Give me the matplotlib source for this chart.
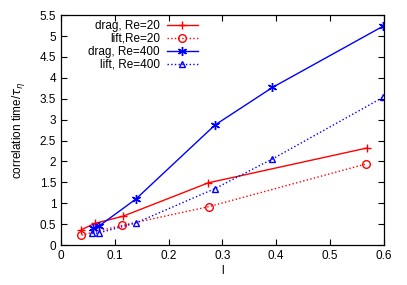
import numpy as np
import matplotlib.pyplot as plt

##### DATA #####

drag20_x = [0.038, 0.063, 0.115, 0.274, 0.568]
drag20_y = [0.37, 0.52, 0.69, 1.49, 2.32]

lift20_x = [0.038, 0.113, 0.275, 0.567]
lift20_y = [0.24, 0.47, 0.92, 1.94]

drag400_x = [0.060, 0.070, 0.139, 0.286, 0.393, 0.598]
drag400_y = [0.40, 0.45, 1.10, 2.87, 3.77, 5.23]

lift400_x = [0.058, 0.070, 0.139, 0.286, 0.393, 0.598]
lift400_y = [0.28, 0.29, 0.53, 1.35, 2.06, 3.53]

xticks = np.arange(0, 0.61, 0.1)
yticks = np.arange(0, 5.51, 0.5)

##### FIGURE #####

plt.rcParams['font.family'] = 'Liberation Sans'
plt.rcParams['font.size'] = 8.5

fig = plt.figure(figsize=(4.07, 2.85), dpi=100)
ax = fig.add_axes([0.150, 0.140, 0.793, 0.807])

ax.plot(drag20_x, drag20_y, '-', color='red', marker='+', ms=6, mew=1, lw=1,
        label='drag, Re=20')
ax.plot(lift20_x, lift20_y, ':', color='red', marker='o', ms=5.5, mfc='none',
        mew=1, lw=1, label='lift,Re=20')
ax.plot(drag400_x, drag400_y, '-', color='blue', marker=(6, 2, 0), ms=6.5, mew=1,
        lw=1, label='drag, Re=400')
ax.plot(lift400_x, lift400_y, ':', color='blue', marker='^', ms=5, mfc='none',
        mew=1, lw=1, label='lift, Re=400')

ax.set_xlim(0, 0.6)
ax.set_ylim(0, 5.5)
ax.set_xticks(xticks)
ax.set_xticklabels(['0' if v == 0 else '%g' % round(v, 1) for v in xticks])
ax.set_yticks(yticks)
ax.set_yticklabels(['0' if v == 0 else '%g' % v for v in yticks])
ax.tick_params(direction='in', top=True, right=True, length=4, width=0.8)
for s in ax.spines.values():
    s.set_linewidth(0.9)

ax.set_xlabel('l', labelpad=2)
ax.set_ylabel(r'correlation time/$\tau_\eta$', labelpad=9)

ax.legend(loc='upper left', frameon=False, markerfirst=False,
          handlelength=2.6, handletextpad=0.6, labelspacing=0.08,
          borderaxespad=0.0, bbox_to_anchor=(0.07, 1.0))
for t in ax.get_legend().get_texts():
    t.set_ha('right')

fig.savefig('out.png', dpi=100)
